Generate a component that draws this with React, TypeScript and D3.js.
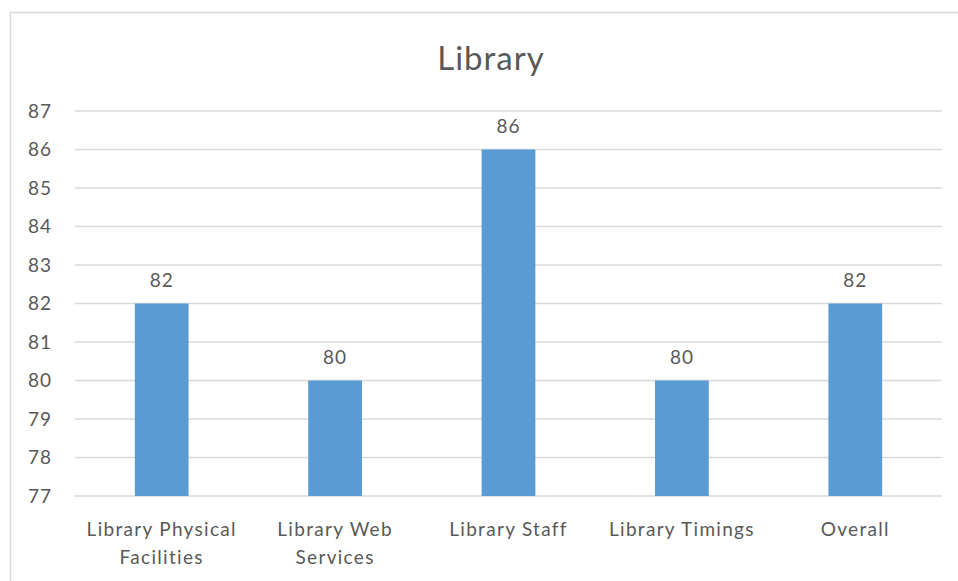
import React, { useEffect, useRef } from 'react';
import * as d3 from 'd3';

const categories = [
  'Library Physical Facilities',
  'Library Web Services',
  'Library Staff',
  'Library Timings',
  'Overall',
];
const values = [82, 80, 86, 80, 82];
const yTicks = [77, 78, 79, 80, 81, 82, 83, 84, 85, 86, 87];
const title = 'Library';

// label wrapping as Excel shows it
const labelLines: Record<string, string[]> = {
  'Library Physical Facilities': ['Library Physical', 'Facilities'],
  'Library Web Services': ['Library Web', 'Services'],
};

const W = 958;
const H = 581;
const font = 'Lato, "Open Sans", sans-serif';
const textColor = '#595959';

const App = () => {
  const ref = useRef<SVGSVGElement>(null);

  useEffect(() => {
    const svg = d3.select(ref.current);
    svg.selectAll('*').remove();

    const left = 75;
    const right = 942;
    const top = 111;
    const bottom = 496;

    const x = d3.scaleBand().domain(categories).range([left, right]).paddingInner(0.69).paddingOuter(0.345);
    const y = d3.scaleLinear().domain([77, 87]).range([bottom, top]);

    // chart frame
    svg.append('rect')
      .attr('x', 10.5).attr('y', 12.5)
      .attr('width', W).attr('height', H)
      .attr('fill', 'none').attr('stroke', '#d9d9d9').attr('stroke-width', 1.5);

    svg.append('text')
      .attr('x', 491).attr('y', 70)
      .attr('text-anchor', 'middle')
      .attr('font-family', font).attr('font-size', 33)
      .attr('letter-spacing', 1)
      .attr('fill', textColor)
      .text(title);

    const grid = svg.append('g');
    grid.selectAll('line').data(yTicks).enter().append('line')
      .attr('x1', left).attr('x2', right)
      .attr('y1', d => y(d)).attr('y2', d => y(d))
      .attr('stroke', '#d9d9d9').attr('stroke-width', 1.5);

    svg.append('g').selectAll('text').data(yTicks).enter().append('text')
      .attr('x', 52).attr('y', d => y(d) + 6.5)
      .attr('text-anchor', 'end')
      .attr('font-family', font).attr('font-size', 19)
      .attr('letter-spacing', 1)
      .attr('fill', textColor)
      .text(d => d);

    const bars = svg.append('g');
    bars.selectAll('rect').data(values).enter().append('rect')
      .attr('x', (d, i) => x(categories[i]) as number)
      .attr('width', x.bandwidth())
      .attr('y', d => y(d))
      .attr('height', d => bottom - y(d))
      .attr('fill', '#5b9bd5');

    svg.append('g').selectAll('text').data(values).enter().append('text')
      .attr('x', (d, i) => (x(categories[i]) as number) + x.bandwidth() / 2)
      .attr('y', d => y(d) - 17)
      .attr('text-anchor', 'middle')
      .attr('font-family', font).attr('font-size', 19)
      .attr('letter-spacing', 1)
      .attr('fill', textColor)
      .text(d => d);

    const xl = svg.append('g');
    categories.forEach(c => {
      const lines = labelLines[c] || [c];
      const t = xl.append('text')
        .attr('text-anchor', 'middle')
        .attr('font-family', font).attr('font-size', 19)
        .attr('letter-spacing', 1.3)
        .attr('fill', textColor);
      lines.forEach((line, j) => {
        t.append('tspan')
          .attr('x', (x(c) as number) + x.bandwidth() / 2)
          .attr('y', 536 + j * 28)
          .text(line);
      });
    });
  }, []);

  return (
    <svg ref={ref} width={W} height={H}
      style={{ position: 'absolute', left: 0, top: 0, background: '#fff' }} />
  );
};

export default App;
